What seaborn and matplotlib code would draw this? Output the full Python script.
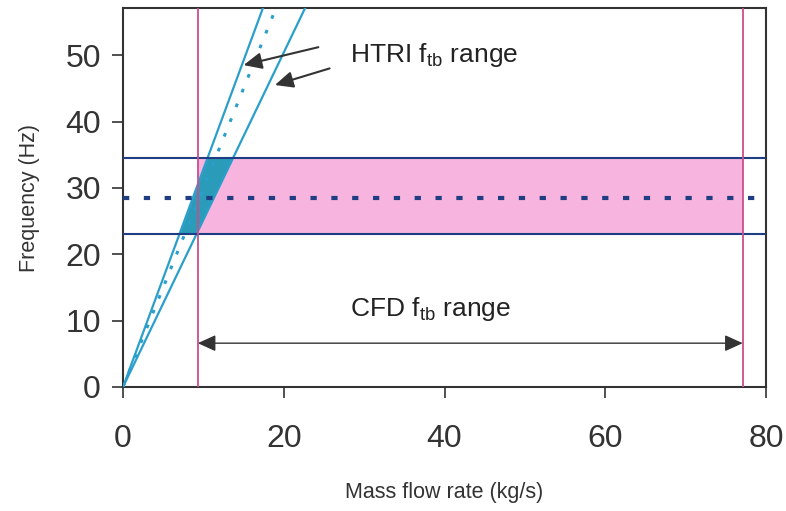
import numpy as np
import pandas as pd
import matplotlib
matplotlib.use("Agg")
import matplotlib.pyplot as plt
import seaborn as sns

# HTRI fluid-elastic (ftb) lines: frequency vs mass flow rate
htri_flow = [0, 25]
htri_upper = [0, 82]     # steep bound
htri_mid = [0, 75]       # dotted centre
htri_lower = [0, 63]     # shallow bound

# CFD ftb band
cfd_low, cfd_mid, cfd_high = 23.0, 28.5, 34.5
flow_min, flow_max = 9.3, 77.1

x_ticks = [0, 20, 40, 60, 80]
y_ticks = [0, 10, 20, 30, 40, 50]

SLOPE_C = "#2b9fcc"
NAVY = "#1f3d82"
PINK_FILL = "#f6b4de"
PINK_LINE = "#c8508a"
TEAL = "#2a9bb8"
ARROW_C = "#333333"

sns.set_style("ticks")
plt.rcParams["font.family"] = ["Liberation Sans", "DejaVu Sans"]

fig = plt.figure(figsize=(7.86, 5.11), dpi=100)
ax = fig.add_axes([0.1565, 0.2427, 0.8181, 0.7416])

df = pd.DataFrame({
    "flow": htri_flow * 3,
    "freq": htri_upper + htri_mid + htri_lower,
    "line": ["upper"] * 2 + ["mid"] * 2 + ["lower"] * 2,
})

# CFD band (pink) and its overlap with HTRI range (teal)
ax.fill_between([flow_min, flow_max], cfd_low, cfd_high, color=PINK_FILL, lw=0, zorder=1)
yy = np.linspace(cfd_low, cfd_high, 50)
x_left = np.interp(yy, htri_upper, htri_flow)
x_right = np.interp(yy, htri_lower, htri_flow)
ax.fill_betweenx(yy, x_left, x_right, color=TEAL, lw=0, zorder=2)

sns.lineplot(data=df[df.line != "mid"], x="flow", y="freq", units="line",
             estimator=None, color=SLOPE_C, lw=1.6, ax=ax, zorder=3)
sns.lineplot(data=df[df.line == "mid"], x="flow", y="freq",
             estimator=None, color=SLOPE_C, lw=2.2, ax=ax, zorder=3,
             linestyle=(0, (1.2, 4)))

for yv in (cfd_low, cfd_high):
    ax.axhline(yv, color=NAVY, lw=1.5, zorder=4)
ax.axhline(cfd_mid, color=NAVY, lw=3, linestyle=(0, (1.5, 3.5)), zorder=4)
for xv in (flow_min, flow_max):
    ax.axvline(xv, color=PINK_LINE, lw=1.3, zorder=4)

arrow_kw = dict(arrowstyle="-|>,head_length=1.1,head_width=0.5",
                color=ARROW_C, lw=1.5, shrinkA=0, shrinkB=0)
ax.annotate("", xy=(15.0, 48.5), xytext=(24.3, 51.2), arrowprops=arrow_kw, zorder=5)
ax.annotate("", xy=(18.9, 45.5), xytext=(25.7, 48.0), arrowprops=arrow_kw, zorder=5)
ax.text(28.3, 50.0, "HTRI f$_{\\mathregular{tb}}$ range", fontsize=19, va="center",
        ha="left", color="#222222")

ax.annotate("", xy=(flow_min, 6.6), xytext=(flow_max, 6.6),
            arrowprops=dict(arrowstyle="<|-|>,head_length=1.1,head_width=0.5",
                            color=ARROW_C, lw=1.0, shrinkA=0, shrinkB=0))
ax.text(38.3, 11.7, "CFD f$_{\\mathregular{tb}}$ range", fontsize=19, va="center",
        ha="center", color="#222222")

ax.set_xlim(0, 80)
ax.set_ylim(0, 57.1)
ax.set_xticks(x_ticks)
ax.set_yticks(y_ticks)
ax.tick_params(axis="x", direction="out", length=8, width=1.2, pad=19, labelsize=23, colors="#333333")
ax.tick_params(axis="y", direction="out", length=8, width=1.2, pad=8, labelsize=23, colors="#333333")
ax.set_xlabel("Mass flow rate (kg/s)", fontsize=15.5, color="#333333", labelpad=20)
ax.set_ylabel("Frequency (Hz)", fontsize=15.5, color="#333333", labelpad=18)
for s in ax.spines.values():
    s.set_visible(True)
    s.set_color("#333333")
    s.set_linewidth(1.5)
if ax.get_legend():
    ax.get_legend().remove()

fig.savefig("out.png", dpi=100)
